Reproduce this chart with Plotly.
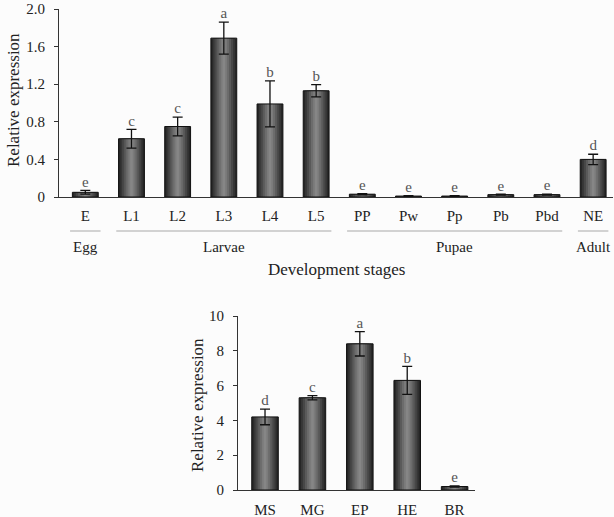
import plotly.graph_objects as go

# ---- data: development stages (top panel)
stages = ["E", "L1", "L2", "L3", "L4", "L5", "PP", "Pw", "Pp", "Pb", "Pbd", "NE"]
stage_values = [0.05, 0.62, 0.75, 1.69, 0.99, 1.13, 0.03, 0.01, 0.01, 0.025, 0.025, 0.40]
stage_errors = [0.02, 0.10, 0.10, 0.17, 0.245, 0.065, 0.006, 0.004, 0.004, 0.004, 0.006, 0.055]
stage_letters = ["e", "c", "c", "a", "b", "b", "e", "e", "e", "e", "e", "d"]
groups = ["Egg", "Larvae", "Pupae", "Adult"]
group_first = [0, 1, 6, 11]
group_last = [0, 5, 10, 11]
top_ticks = [0, 0.4, 0.8, 1.2, 1.6, 2.0]
top_ticklabels = ["0", "0.4", "0.8", "1.2", "1.6", "2.0"]

# ---- data: tissues (bottom panel)
tissues = ["MS", "MG", "EP", "HE", "BR"]
tissue_values = [4.2, 5.3, 8.4, 6.3, 0.2]
tissue_errors = [0.45, 0.12, 0.7, 0.8, 0.03]
tissue_letters = ["d", "c", "a", "b", "e"]
bottom_ticks = [0, 2, 4, 6, 8, 10]

FONT = "Liberation Serif"
BAR_W = 0.56
layers = [(1.00, "#262626"), (0.86, "#363636"), (0.72, "#474747"),
          (0.56, "#5a5a5a"), (0.40, "#6c6c6c"), (0.24, "#7b7b7b"), (0.10, "#868686")]

fig = go.Figure()


def add_bars(cats, vals, errs, letters, xa, ya):
    for frac, col in layers:
        fig.add_trace(go.Bar(x=cats, y=vals, width=[BAR_W * frac] * len(cats),
                             marker=dict(color=col, line=dict(width=0)),
                             xaxis=xa, yaxis=ya, showlegend=False, hoverinfo="skip"))
    fig.add_trace(go.Bar(x=cats, y=vals, width=[BAR_W] * len(cats),
                         marker=dict(color="rgba(0,0,0,0)", line=dict(color="#111", width=1)),
                         error_y=dict(type="data", array=errs, visible=True,
                                      color="#111", thickness=1.3, width=5),
                         xaxis=xa, yaxis=ya, showlegend=False))
    fig.add_trace(go.Scatter(x=cats, y=[v + e for v, e in zip(vals, errs)],
                             mode="text", text=letters, textposition="top center",
                             textfont=dict(family=FONT, size=15, color="#555"),
                             cliponaxis=False,
                             xaxis=xa, yaxis=ya, showlegend=False, hoverinfo="skip"))


add_bars(stages, stage_values, stage_errors, stage_letters, "x", "y")
add_bars(tissues, tissue_values, tissue_errors, tissue_letters, "x2", "y2")

W, H = 614, 517
axis_common = dict(showgrid=False, zeroline=False, showline=True, linecolor="#333",
                   linewidth=1, automargin=False, ticklabeloverflow="allow",
                   tickfont=dict(family=FONT, size=15, color="#222"))

fig.update_layout(
    template="none",
    width=W, height=H, margin=dict(l=0, r=0, t=0, b=0, autoexpand=False),
    paper_bgcolor="#fcfcfc", plot_bgcolor="#fcfcfc",
    barmode="overlay", font=dict(family=FONT, color="#222"),
    xaxis=dict(domain=[59 / W, 613 / W], anchor="y", range=[-0.57, 11.43],
               ticks="", ticklabelstandoff=5, **axis_common),
    yaxis=dict(domain=[1 - 197 / H, 1 - 9 / H], anchor="x", range=[0, 2.0],
               tickvals=top_ticks, ticktext=top_ticklabels, ticks="outside", ticklen=4,
               tickcolor="#333", ticklabelstandoff=6, **axis_common),
    xaxis2=dict(domain=[238 / W, 475 / W], anchor="y2", range=[-0.57, 4.43],
                ticks="", ticklabelstandoff=6, **axis_common),
    yaxis2=dict(domain=[1 - 490 / H, 1 - 316 / H], anchor="x2", range=[0, 10],
                tickvals=bottom_ticks, ticks="outside", ticklen=4, tickcolor="#333",
                ticklabelstandoff=6, **axis_common),
)

shapes = []
annotations = []
for g, a, b in zip(groups, group_first, group_last):
    shapes.append(dict(type="line", xref="x", yref="paper", x0=a - 0.33, x1=b + 0.33,
                       y0=1 - 231 / H, y1=1 - 231 / H, line=dict(color="#c4c4c4", width=1.5)))
    annotations.append(dict(text=g, xref="x", yref="paper", x=(a + b) / 2, y=1 - 247 / H,
                            xanchor="center", yanchor="middle", showarrow=False,
                            font=dict(family=FONT, size=15, color="#222")))
annotations.append(dict(text="Development stages", xref="paper", yref="paper",
                        x=336 / W, y=1 - 269 / H, xanchor="center", yanchor="middle",
                        showarrow=False, font=dict(family=FONT, size=17, color="#222")))
annotations.append(dict(text="Relative expression", xref="paper", yref="paper",
                        x=13 / W, y=1 - 100 / H, textangle=-90, xanchor="center",
                        yanchor="middle", showarrow=False,
                        font=dict(family=FONT, size=17, color="#222")))
annotations.append(dict(text="Relative expression", xref="paper", yref="paper",
                        x=197 / W, y=1 - 405 / H, textangle=-90, xanchor="center",
                        yanchor="middle", showarrow=False,
                        font=dict(family=FONT, size=17, color="#222")))
fig.update_layout(shapes=shapes, annotations=annotations)

fig.write_html("out.html", config={"displayModeBar": False},
               post_script="document.body.style.margin='0';document.body.style.overflow='hidden';")
